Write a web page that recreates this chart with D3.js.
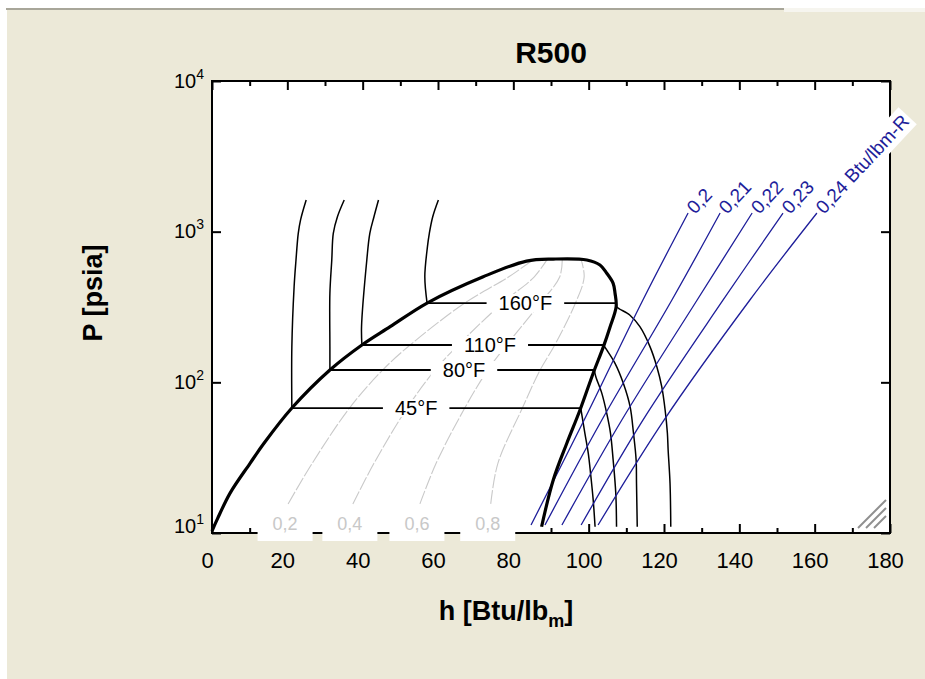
<!DOCTYPE html>
<html>
<head>
<meta charset="utf-8">
<script src="https://cdn.jsdelivr.net/npm/d3@7"></script>
<style>
  html, body { margin: 0; padding: 0; background: #fff; }
  svg { display: block; }
  text { font-family: "Liberation Sans", Arial, sans-serif; }
</style>
</head>
<body>
<svg id="chart" width="925" height="679"></svg>
<script>
// ---- data (h in Btu/lbm, P in psia) ----
const hTicks = [0, 20, 40, 60, 80, 100, 120, 140, 160, 180];
const hMinorTicks = [10, 30, 50, 70, 90, 110, 130, 150, 170];
const pDecades = [10, 100, 1000, 10000];

// saturation dome, liquid side (bottom -> top) and vapour side (top -> bottom)
const domeLiquid = [[0, 10.3], [1.5, 12.5], [4.8, 18.4], [10.1, 29], [13.8, 39.4], [21.2, 67.5],
  [31.3, 120.7], [39.8, 176.9], [47.3, 234], [57.1, 336], [72, 502], [83.5, 638], [90.6, 658]];
const domeVapor = [[90.6, 658], [99.5, 649], [103, 601], [104.8, 530], [106.5, 454], [107, 390],
  [107.3, 318], [105.7, 234], [103.9, 172], [101.2, 115], [97.7, 65.5], [94.2, 39.4], [90.6, 22.5], [87.5, 11]];

// isotherms
const isoNames = ["45°F", "80°F", "110°F", "160°F"];
const isoPsat = [67.5, 120.7, 176.9, 336];
const isoHf = [21.2, 31.3, 39.8, 57.1];
const isoHg = [97.9, 101.5, 103.9, 107.3];
const isoLabelH = [54.2, 66.9, 73.8, 83.2];
const isoLiquid = [
  [[21.2, 67.5], [21.2, 172], [21.8, 431], [22.3, 649], [22.9, 975], [23.5, 1194], [25.0, 1622]],
  [[31.3, 120.7], [31.3, 172], [31.3, 390], [31.8, 649], [32.2, 975], [33.3, 1256], [35.1, 1622]],
  [[39.8, 176.9], [39.7, 234], [41.1, 649], [41.9, 975], [43.0, 1256], [44.2, 1622]],
  [[57.1, 336], [56.5, 502], [57.2, 795], [57.7, 975], [58.6, 1256], [60.1, 1622]]
];
const isoVapor = [
  [[97.9, 67.5], [99.0, 45.9], [99.9, 33.8], [100.5, 24.9], [101.2, 16.6], [101.7, 11]],
  [[101.5, 120.7], [101.9, 109], [103.5, 84.5], [104.8, 62.2], [105.8, 45.9], [106.5, 30.5], [107.2, 18.3], [107.4, 11]],
  [[103.9, 176.9], [104.8, 164], [107.0, 133.6], [109.2, 98.5], [111.0, 68.9], [111.9, 45.9], [112.6, 30.5], [112.7, 21.4], [112.9, 11]],
  [[107.3, 336], [107.4, 318], [110.9, 280], [113.6, 234], [116.3, 172], [118.1, 127], [119.4, 93.5],
   [120.3, 65.5], [120.9, 45.9], [121.1, 35.6], [121.6, 21.4], [121.8, 11]]
];

// lines of constant quality
const qualityNames = ["0,2", "0,4", "0,6", "0,8"];
const qualityLines = [
  [[20.2, 15.6], [26.6, 29], [36.5, 67.5], [45.3, 120.7], [52.6, 176.9], [67.1, 336], [78.7, 500], [85, 645]],
  [[37.4, 15.6], [43.0, 29], [51.8, 67.5], [59.2, 120.7], [65.4, 176.9], [77.1, 336], [85.5, 500], [89, 655]],
  [[55.2, 15.6], [59.5, 29], [67.1, 67.5], [73.2, 120.7], [78.2, 176.9], [87.2, 336], [92.3, 500], [93, 657]],
  [[74.0, 15.6], [75.9, 29], [82.4, 67.5], [87.1, 120.7], [91.0, 176.9], [96.5, 336], [98.8, 500], [98, 652]]
];

// lines of constant entropy
const entropyNames = ["0,2", "0,21", "0,22", "0,23", "0,24 Btu/lbm-R"];
const entropyLines = [
  [[84.7, 11.3], [98.8, 56.2], [114.4, 352], [126.4, 1330]],
  [[88.4, 11.3], [103.5, 56.2], [122.1, 352], [134.9, 1330]],
  [[92.9, 11.3], [108.8, 56.2], [128.8, 352], [143.4, 1330]],
  [[98.0, 11.3], [114.4, 56.2], [135.7, 352], [151.6, 1330]],
  [[102.5, 11.3], [120.0, 56.2], [142.8, 352], [160.6, 1330]]
];

// ---- layout ----
const W = 925, H = 679;
const margin = {top: 81, right: 35, bottom: 146, left: 212};
const plotW = W - margin.left - margin.right;
const plotH = H - margin.top - margin.bottom;

const svg = d3.select("#chart");

// window background
svg.append("rect").attr("x", 7).attr("y", 9).attr("width", W - 7).attr("height", H - 9).attr("fill", "#ece9d8");
svg.append("rect").attr("x", 6).attr("y", 8).attr("width", 778).attr("height", 2).attr("fill", "#a8a699");
svg.append("rect").attr("x", 784).attr("y", 8).attr("width", W - 784).attr("height", 4).attr("fill", "#f6f5ef");

const x = d3.scaleLinear().domain([0, 180]).range([margin.left, margin.left + plotW]);
const y = d3.scaleLog().domain([10, 10000]).range([margin.top + plotH, margin.top]);

svg.append("rect")
  .attr("x", margin.left).attr("y", margin.top)
  .attr("width", plotW).attr("height", plotH)
  .attr("fill", "#fff");

const smooth = d3.line().x(d => x(d[0])).y(d => y(d[1])).curve(d3.curveCatmullRom.alpha(0.5));

// quality lines
svg.append("g").selectAll("path")
  .data(qualityLines)
  .enter().append("path")
  .attr("d", smooth)
  .attr("fill", "none")
  .attr("stroke", "#c9c9c9")
  .attr("stroke-width", 1.1)
  .attr("stroke-dasharray", "14,2");

// isotherms
const iso = svg.append("g").attr("fill", "none").attr("stroke", "#000").attr("stroke-width", 1.5);
isoLiquid.forEach(l => iso.append("path").attr("d", smooth(l)));
isoVapor.forEach(l => iso.append("path").attr("d", smooth(l)));
isoPsat.forEach((p, i) => {
  iso.append("line")
    .attr("x1", x(isoHf[i])).attr("x2", x(isoHg[i]))
    .attr("y1", y(p)).attr("y2", y(p))
    .attr("stroke-width", 1.8);
});

// isentropes
svg.append("g").selectAll("path")
  .data(entropyLines)
  .enter().append("path")
  .attr("d", smooth)
  .attr("fill", "none")
  .attr("stroke", "#1e1e9a")
  .attr("stroke-width", 1.3);

// saturation dome
svg.append("path")
  .attr("d", smooth(domeLiquid.concat(domeVapor.slice(1))))
  .attr("fill", "none")
  .attr("stroke", "#000")
  .attr("stroke-width", 3.2)
  .attr("stroke-linejoin", "round");

// isotherm labels
isoNames.forEach((name, i) => {
  const g = svg.append("g").attr("transform", `translate(${x(isoLabelH[i])},${y(isoPsat[i])})`);
  const t = g.append("text")
    .attr("text-anchor", "middle")
    .attr("y", 7)
    .style("font-size", "20px")
    .text(name);
  const bb = t.node().getBBox();
  g.insert("rect", "text")
    .attr("x", -bb.width / 2 - 12).attr("y", -9)
    .attr("width", bb.width + 24).attr("height", 18)
    .attr("fill", "#fff");
});

// frame
svg.append("rect")
  .attr("x", margin.left).attr("y", margin.top)
  .attr("width", plotW).attr("height", plotH)
  .attr("fill", "none").attr("stroke", "#000").attr("stroke-width", 2);

function styleAxis(g) {
  g.select(".domain").remove();
  g.selectAll(".tick line").attr("stroke-width", 2);
}

const gxB = svg.append("g")
  .attr("transform", `translate(0,${margin.top + plotH})`)
  .call(d3.axisBottom(x).tickValues(hTicks).tickSize(-9).tickPadding(19))
  .call(styleAxis);
gxB.selectAll("text")
  .attr("x", -5)
  .attr("fill", "#000")
  .style("font-size", "22px");
svg.append("g")
  .attr("transform", `translate(0,${margin.top + plotH})`)
  .call(d3.axisBottom(x).tickValues(hMinorTicks).tickSize(-5).tickFormat(""))
  .call(styleAxis);
svg.append("g")
  .attr("transform", `translate(0,${margin.top})`)
  .call(d3.axisTop(x).tickValues(hTicks).tickSize(-9).tickFormat(""))
  .call(styleAxis);
svg.append("g")
  .attr("transform", `translate(0,${margin.top})`)
  .call(d3.axisTop(x).tickValues(hMinorTicks).tickSize(-5).tickFormat(""))
  .call(styleAxis);
svg.append("g")
  .attr("transform", `translate(${margin.left + plotW},0)`)
  .call(d3.axisRight(y).tickValues(pDecades).tickSize(-9).tickFormat(""))
  .call(styleAxis);
const gyL = svg.append("g")
  .attr("transform", `translate(${margin.left},0)`)
  .call(d3.axisLeft(y).tickValues(pDecades).tickSize(-9).tickFormat(""))
  .call(styleAxis);

gyL.selectAll(".tick").append("text")
  .attr("x", -8)
  .attr("y", d => d === 10 ? -1 : 6)
  .attr("text-anchor", "end")
  .attr("fill", "#000")
  .style("font-size", "20px")
  .each(function(d) {
    const t = d3.select(this);
    t.append("tspan").text("10");
    t.append("tspan").attr("dy", -9).style("font-size", "14px").text(Math.round(Math.log10(d)));
  });

// quality labels
qualityNames.forEach((name, i) => {
  const cx = x(qualityLines[i][0][0]) - 3;
  svg.append("rect")
    .attr("x", cx - 27.5).attr("y", 515)
    .attr("width", 55).attr("height", 26)
    .attr("fill", "#fff");
  svg.append("text")
    .attr("x", cx).attr("y", 530)
    .attr("text-anchor", "middle")
    .attr("fill", "#c8c8c8")
    .style("font-size", "18px")
    .text(name);
});

// isentrope labels
entropyNames.forEach((name, i) => {
  const end = entropyLines[i][entropyLines[i].length - 1];
  const g = svg.append("g")
    .attr("transform", `translate(${x(end[0]) + 7},${y(end[1]) + 2}) rotate(-47)`);
  const t = g.append("text")
    .attr("fill", "#1e1e9a")
    .style("font-size", "19px")
    .text(name);
  const bb = t.node().getBBox();
  g.insert("rect", "text")
    .attr("x", bb.x - 3).attr("y", bb.y - 2)
    .attr("width", bb.width + 6).attr("height", bb.height + 4)
    .attr("fill", "#fff");
});

// size grip in the corner
const grip = svg.append("g").attr("stroke", "#8f8f8f").attr("stroke-width", 2);
[0, 8, 16].forEach(o => {
  grip.append("line")
    .attr("x1", 858 + o).attr("y1", 528)
    .attr("x2", 886).attr("y2", 500 + o);
});

// title and axis titles
svg.append("text")
  .attr("x", margin.left + plotW / 2).attr("y", 63)
  .attr("text-anchor", "middle")
  .style("font-size", "30px").style("font-weight", "bold")
  .text("R500");

svg.append("text")
  .attr("transform", "translate(102,293) rotate(-90)")
  .attr("text-anchor", "middle")
  .style("font-size", "27px").style("font-weight", "bold")
  .text("P [psia]");

const xl = svg.append("text")
  .attr("x", 506).attr("y", 620)
  .attr("text-anchor", "middle")
  .style("font-size", "27px").style("font-weight", "bold");
xl.append("tspan").text("h [Btu/lb");
xl.append("tspan").attr("dy", 7).style("font-size", "18px").text("m");
xl.append("tspan").attr("dy", -7).text("]");
</script>
</body>
</html>
